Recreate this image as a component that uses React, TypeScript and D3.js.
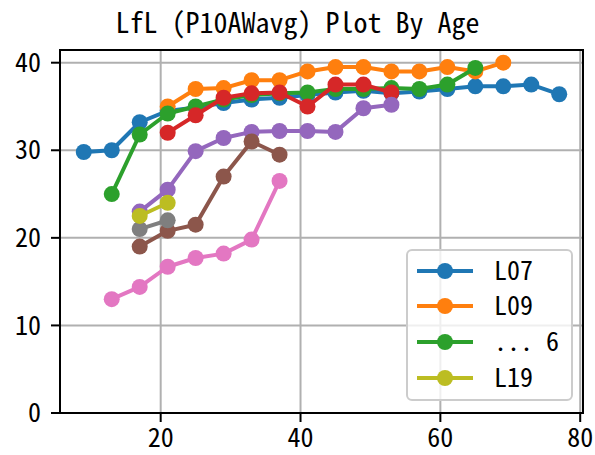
import React from "react";
import * as d3 from "d3";

const seriesNames = ["L07", "L09", "... 6", "L11", "L13", "L15", "L16", "L17", "L19"];
const seriesColors = ["#1f77b4", "#ff7f0e", "#2ca02c", "#d62728", "#9467bd", "#8c564b", "#e377c2", "#7f7f7f", "#bcbd22"];
const legendIndices = [0, 1, 2, 8];

const agesL07 = [9, 13, 17, 21, 25, 29, 33, 37, 41, 45, 49, 53, 57, 61, 65, 69, 73, 77];
const valsL07 = [29.8, 30.0, 33.2, 34.5, 34.9, 35.4, 35.8, 36.0, 36.3, 36.6, 36.8, 36.5, 36.7, 37.0, 37.3, 37.3, 37.5, 36.4];
const agesL09 = [21, 25, 29, 33, 37, 41, 45, 49, 53, 57, 61, 65, 69];
const valsL09 = [35.0, 37.0, 37.1, 38.0, 38.0, 39.0, 39.5, 39.5, 39.0, 39.0, 39.5, 39.0, 40.0];
const agesS3 = [13, 17, 21, 25, 29, 33, 37, 41, 45, 49, 53, 57, 61, 65];
const valsS3 = [25.0, 31.8, 34.2, 35.0, 35.8, 36.3, 36.5, 36.6, 37.0, 37.0, 37.1, 37.0, 37.5, 39.4];
const agesS4 = [21, 25, 29, 33, 37, 41, 45, 49, 53];
const valsS4 = [32.0, 34.0, 36.0, 36.5, 36.6, 35.0, 37.5, 37.5, 36.6];
const agesS5 = [17, 21, 25, 29, 33, 37, 41, 45, 49, 53];
const valsS5 = [23.0, 25.5, 29.9, 31.4, 32.1, 32.2, 32.2, 32.1, 34.8, 35.2];
const agesS6 = [17, 21, 25, 29, 33, 37];
const valsS6 = [19.0, 20.8, 21.5, 27.0, 31.0, 29.5];
const agesS7 = [13, 17, 21, 25, 29, 33, 37];
const valsS7 = [13.0, 14.4, 16.7, 17.7, 18.2, 19.8, 26.5];
const agesS8 = [17, 21];
const valsS8 = [21.0, 22.0];
const agesL19 = [17, 21];
const valsL19 = [22.5, 24.0];

const seriesAges = [agesL07, agesL09, agesS3, agesS4, agesS5, agesS6, agesS7, agesS8, agesL19];
const seriesVals = [valsL07, valsL09, valsS3, valsS4, valsS5, valsS6, valsS7, valsS8, valsL19];

const xTicks = [20, 40, 60, 80];
const yTicks = [0, 10, 20, 30, 40];
const title = "LfL (P10AWavg) Plot By Age";

const W = 595, H = 455;
const L = 60, R = 583, T = 50, B = 413;
const FONT = "'Noto Sans Mono CJK JP', 'Noto Sans Mono CJK SC', 'DejaVu Sans Mono', monospace";

export default function App() {
  const x = d3.scaleLinear().domain([5.6, 80.4]).range([L, R]);
  const y = d3.scaleLinear().domain([0, 41.45]).range([B, T]);
  const line = d3.line<[number, number]>().x(d => x(d[0])).y(d => y(d[1]));

  const legX = 407, legY = 250, legW = 165, legH = 150;
  const rowY = [271, 306, 342, 378];

  return (
    <svg width={W} height={H} style={{ position: "absolute", left: 0, top: 0, background: "#fff" }} fontFamily={FONT}>
      <rect x={0} y={0} width={W} height={H} fill="#fff" />
      <defs>
        <clipPath id="clip">
          <rect x={L} y={T} width={R - L} height={B - T} />
        </clipPath>
      </defs>
      {/* grid */}
      {xTicks.map(t => (
        <line key={"gx" + t} x1={x(t)} x2={x(t)} y1={T} y2={B} stroke="#b0b0b0" strokeWidth={2} />
      ))}
      {yTicks.map(t => (
        <line key={"gy" + t} x1={L} x2={R} y1={y(t)} y2={y(t)} stroke="#b0b0b0" strokeWidth={2} />
      ))}
      {/* series */}
      <g clipPath="url(#clip)">
        {seriesAges.map((ages, i) => {
          const pts = ages.map((a, j) => [a, seriesVals[i][j]] as [number, number]);
          return (
            <g key={"s" + i}>
              <path d={line(pts) || ""} fill="none" stroke={seriesColors[i]} strokeWidth={4} strokeLinejoin="round" strokeLinecap="square" />
              {pts.map((p, j) => (
                <circle key={j} cx={x(p[0])} cy={y(p[1])} r={8} fill={seriesColors[i]} />
              ))}
            </g>
          );
        })}
      </g>
      {/* spines */}
      <rect x={L} y={T} width={R - L} height={B - T} fill="none" stroke="#000" strokeWidth={2} />
      {/* ticks */}
      {xTicks.map(t => (
        <g key={"xt" + t}>
          <line x1={x(t)} x2={x(t)} y1={B} y2={B + 9} stroke="#000" strokeWidth={2} />
          <text x={x(t)} y={B + 34} textAnchor="middle" fontSize={26} fill="#000">{t}</text>
        </g>
      ))}
      {yTicks.map(t => (
        <g key={"yt" + t}>
          <line x1={L - 9} x2={L} y1={y(t)} y2={y(t)} stroke="#000" strokeWidth={2} />
          <text x={L - 19} y={y(t)} dy="0.35em" textAnchor="end" fontSize={26} fill="#000">{t}</text>
        </g>
      ))}
      {/* title */}
      <text x={297.5} y={33} textAnchor="middle" fontSize={28} fill="#000">{title}</text>
      {/* legend */}
      <rect x={legX} y={legY} width={legW} height={legH} rx={5} fill="#fff" fillOpacity={0.8} stroke="#cccccc" strokeWidth={2} />
      {legendIndices.map((si, k) => (
        <g key={"lg" + si}>
          <line x1={417} x2={473} y1={rowY[k]} y2={rowY[k]} stroke={seriesColors[si]} strokeWidth={4} />
          <circle cx={445} cy={rowY[k]} r={8} fill={seriesColors[si]} />
          <text x={494} y={rowY[k]} dy="0.35em" fontSize={26} fill="#000" xmlSpace="preserve">{seriesNames[si]}</text>
        </g>
      ))}
    </svg>
  );
}
